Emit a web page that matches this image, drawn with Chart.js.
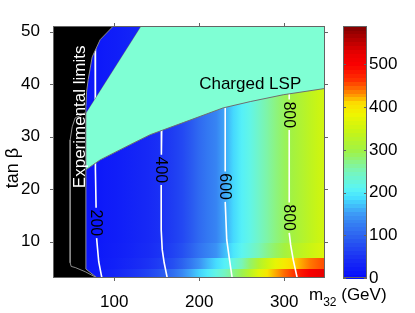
<!DOCTYPE html>
<html lang="en">
<head>
<meta charset="UTF-8">
<title>m32 vs tan beta</title>
<style>
  html, body { margin: 0; padding: 0; background: #fff; }
  #wrap { width: 415px; height: 313px; position: relative; }
</style>
</head>
<body>
<div id="wrap"><canvas id="chart" width="415" height="313"></canvas></div>
<script src="https://cdn.jsdelivr.net/npm/chart.js"></script>
<script>
// axes
const xRange = [28, 348];
const yRange = [3.1, 51.1];
const xTicks = [100, 200, 300];
const yTicks = [10, 20, 30, 40, 50];
const cbarTicks = [0, 100, 200, 300, 400, 500];
const cbarMax = 590;

// colour scale
const cmapStops = [0, 45, 100, 150, 190, 210, 250, 300, 345, 385, 410, 430, 465, 500, 525, 590];
const cmapColors = [
  [5, 10, 252], [25, 45, 245], [45, 100, 240], [60, 150, 245], [70, 225, 255], [90, 245, 245],
  [120, 245, 185], [160, 242, 70], [200, 245, 20], [240, 245, 0], [252, 220, 0], [255, 150, 0],
  [255, 50, 0], [250, 0, 0], [235, 0, 0], [128, 0, 0]
];

// heat map cells: column edges (m32), row edges (tan beta), one row of values per band
const m32Edges = [65, 75, 85, 95, 105, 115, 125, 135, 145, 155, 165, 175, 185, 195, 205,
  215, 225, 235, 245, 255, 265, 275, 285, 295, 305, 315, 325, 335, 345, 355];
const tanbEdges = [3.1, 5, 7, 10, 15, 20, 25, 30, 35, 40, 51.1];
const rowBottom = [20, 22, 28, 34, 42, 50, 58, 68, 80, 95, 112, 135, 160, 182, 200, 222, 245, 270, 295, 330, 370, 400, 425, 445, 462, 485, 505, 520, 530];
const rowLow = [17, 20, 24, 28, 33, 38, 44, 50, 58, 68, 80, 98, 120, 145, 168, 188, 205, 225, 250, 285, 320, 350, 375, 395, 410, 425, 440, 450, 458];
const rowEdge = [16, 19, 23, 26, 30, 34, 38, 43, 49, 57, 67, 79, 96, 115, 130, 145, 170, 195, 213, 230, 250, 270, 288, 305, 320, 333, 346, 358, 367];
const rowMid = [15, 18, 22, 25, 28, 32, 36, 40, 46, 53, 62, 72, 88, 106, 120, 132, 158, 185, 205, 220, 240, 258, 275, 290, 305, 318, 333, 347, 357];
const lspMass = [rowBottom, rowLow, rowEdge, rowMid, rowMid, rowMid, rowMid, rowMid, rowMid, rowMid];

// contours (null = gap for the label)
const c200X = [77.6, 77.6, 78.2, 78.7, null, 79.3, 80.0, 81.8, 85.5];
const c200Y = [47, 37, 23.7, 16.5, null, 10.7, 9.4, 6.2, 3.1];
const c400X = [156.0, 155.5, null, 155.3, 155.3, 156.5, 158.8, 162.4];
const c400Y = [32.5, 26.6, null, 20.8, 12.3, 8.5, 6.0, 3.1];
const c600X = [230.6, 230.6, null, 230.6, 232.4, 235.3, 238.8];
const c600Y = [36.5, 23.4, null, 17.6, 10.4, 7.0, 3.1];
const c800X = [305.9, 305.9, null, 305.9, 305.9, null, 305.9, 307.6, 310.6, 315.3];
const c800Y = [39.5, 37.1, null, 31.3, 17.5, null, 11.7, 9.4, 6.6, 3.1];
const contourText = ['200', '400', '600', '800', '800'];
const contourTextX = [78.9, 155.4, 230.6, 305.9, 305.9];
const contourTextY = [13.6, 23.7, 20.5, 14.6, 34.2];

// excluded regions
const lspLowX = [66.7, 83.5, 118.8, 142.4, 181.2, 228.2, 260, 298.8, 352];
const lspLowY = [23.7, 25.6, 28.5, 30.4, 32.7, 35.5, 36.7, 38.0, 39.3];
const lspTopX = [66.7, 132, 352];
const lspTopY = [34.4, 51.1, 51.1];
const expX = [80, 66.7, 66.7, 67.5, 69.4, 74.1, 83.5, 99];
const expY = [3.1, 4.8, 35.7, 38.5, 40.9, 45.2, 48.5, 51.1];
const expLineX = [65.9, 62.4, 54.1, 50.6, 48.2, 48.2, 49.4, 54.1, 65.9, 80];
const expLineY = [34.6, 34.2, 33.6, 31.9, 29.4, 6.0, 5.3, 5.1, 4.3, 3.1];

const FONT = '"Liberation Sans", Arial, Helvetica, sans-serif';
Chart.defaults.font.family = FONT;
Chart.defaults.font.size = 17;
Chart.defaults.color = '#000';

const pts = (xs, ys) => xs.map((x, i) => ({x: x, y: ys[i]}));

function colourAt(v) {
  if (v <= cmapStops[0]) return 'rgb(' + cmapColors[0].join(',') + ')';
  for (let i = 1; i < cmapStops.length; i++) {
    if (v <= cmapStops[i]) {
      const t = (v - cmapStops[i - 1]) / (cmapStops[i] - cmapStops[i - 1]);
      const a = cmapColors[i - 1], b = cmapColors[i];
      return 'rgb(' + a.map((c, k) => Math.round(c + (b[k] - c) * t)).join(',') + ')';
    }
  }
  return 'rgb(' + cmapColors[cmapColors.length - 1].join(',') + ')';
}

// each band is shaded across its cells, like an interpolated pcolor
const heatmap = {
  id: 'heatmap',
  beforeDatasetsDraw(chart) {
    const {ctx, chartArea: a, scales: {x, y}} = chart;
    ctx.save();
    ctx.beginPath();
    ctx.rect(a.left, a.top, a.right - a.left, a.bottom - a.top);
    ctx.clip();
    const left = x.getPixelForValue(m32Edges[0]);
    const right = x.getPixelForValue(m32Edges[m32Edges.length - 1]);
    const mids = m32Edges.slice(1).map((e, j) => x.getPixelForValue((e + m32Edges[j]) / 2));
    lspMass.forEach((row, i) => {
      const y0 = y.getPixelForValue(tanbEdges[i]);
      const y1 = y.getPixelForValue(tanbEdges[i + 1]);
      const g = ctx.createLinearGradient(mids[0], 0, mids[mids.length - 1], 0);
      const span = mids[mids.length - 1] - mids[0];
      row.forEach((v, j) => g.addColorStop((mids[j] - mids[0]) / span, colourAt(v)));
      ctx.fillStyle = g;
      ctx.fillRect(Math.floor(left), Math.floor(y1), Math.ceil(right - left) + 1, Math.ceil(y0 - y1) + 1);
    });
    ctx.restore();
  }
};

const frame = {
  id: 'frame',
  afterDatasetsDraw(chart) {
    const {ctx, chartArea: a, scales: {x, y, yc}} = chart;
    ctx.save();

    // contour labels
    ctx.fillStyle = '#000';
    ctx.font = '16px ' + FONT;
    ctx.textAlign = 'center';
    ctx.textBaseline = 'middle';
    contourText.forEach((t, i) => {
      ctx.save();
      ctx.translate(x.getPixelForValue(contourTextX[i]), y.getPixelForValue(contourTextY[i]));
      ctx.rotate(Math.PI / 2);
      ctx.fillText(t, 0, 1);
      ctx.restore();
    });

    // region names
    ctx.font = '17px ' + FONT;
    ctx.fillStyle = '#fff';
    ctx.save();
    ctx.translate(x.getPixelForValue(60.5), y.getPixelForValue(33.8));
    ctx.rotate(-Math.PI / 2);
    ctx.fillText('Experimental limits', 0, 0);
    ctx.restore();
    ctx.fillStyle = '#000';
    ctx.fillText('Charged LSP', x.getPixelForValue(260), y.getPixelForValue(39.9));

    // box and outer ticks
    ctx.strokeStyle = '#646464';
    ctx.lineWidth = 1;
    ctx.strokeRect(a.left + 0.5, a.top + 0.5, a.right - a.left - 1, a.bottom - a.top - 1);
    ctx.beginPath();
    xTicks.forEach(v => {
      const px = Math.round(x.getPixelForValue(v)) + 0.5;
      ctx.moveTo(px, a.top - 3); ctx.lineTo(px, a.top);
      ctx.moveTo(px, a.bottom); ctx.lineTo(px, a.bottom + 3);
    });
    yTicks.forEach(v => {
      const py = Math.round(y.getPixelForValue(v)) + 0.5;
      ctx.moveTo(a.left - 3, py); ctx.lineTo(a.left, py);
      ctx.moveTo(a.right, py); ctx.lineTo(a.right + 3, py);
    });
    ctx.stroke();

    // colour bar
    const cl = a.right + 18, cw = 24;
    const n = 64;
    for (let i = 0; i < n; i++) {
      const v0 = cbarMax * i / n, v1 = cbarMax * (i + 1) / n;
      const p0 = yc.getPixelForValue(v0), p1 = yc.getPixelForValue(v1);
      ctx.fillStyle = colourAt((v0 + v1) / 2);
      ctx.fillRect(cl, Math.floor(p1), cw, Math.ceil(p0 - p1) + 1);
    }
    ctx.strokeStyle = '#646464';
    ctx.strokeRect(cl + 0.5, a.top + 0.5, cw - 1, a.bottom - a.top - 1);
    ctx.beginPath();
    cbarTicks.forEach(v => {
      const py = Math.round(yc.getPixelForValue(v)) + 0.5;
      ctx.moveTo(cl, py); ctx.lineTo(cl + 3, py);
      ctx.moveTo(cl + cw - 3, py); ctx.lineTo(cl + cw, py);
    });
    ctx.stroke();

    // axis titles
    ctx.fillStyle = '#000';
    ctx.textAlign = 'left';
    ctx.textBaseline = 'alphabetic';
    let tx = a.right - 16;
    const ty = a.bottom + 22;
    ctx.font = '17px ' + FONT;
    ctx.fillText('m', tx, ty);
    tx += ctx.measureText('m').width;
    ctx.font = '12px ' + FONT;
    ctx.fillText('32', tx, ty + 6);
    tx += ctx.measureText('32').width;
    ctx.font = '17px ' + FONT;
    ctx.fillText(' (GeV)', tx, ty);

    ctx.save();
    ctx.translate(13, 168);
    ctx.rotate(-Math.PI / 2);
    ctx.textAlign = 'center';
    ctx.textBaseline = 'middle';
    ctx.font = '18px ' + FONT;
    ctx.fillText('tan β', 0, 0);
    ctx.restore();

    ctx.restore();
  }
};

const contourStyle = {borderColor: '#ffffff', borderWidth: 1.6, pointRadius: 0, fill: false, order: 5};

new Chart(document.getElementById('chart'), {
  type: 'line',
  data: {
    datasets: [
      Object.assign({label: '200', data: pts(c200X, c200Y)}, contourStyle),
      Object.assign({label: '400', data: pts(c400X, c400Y)}, contourStyle),
      Object.assign({label: '600', data: pts(c600X, c600Y)}, contourStyle),
      Object.assign({label: '800', data: pts(c800X, c800Y)}, contourStyle),
      {
        label: 'Charged LSP', data: pts(lspLowX, lspLowY), fill: '+1',
        backgroundColor: '#7fffd4', borderColor: '#6e6e6e', borderWidth: 1, pointRadius: 0, order: 4
      },
      {
        label: 'Charged LSP top', data: pts(lspTopX, lspTopY), fill: false,
        borderColor: '#6e6e6e', borderWidth: 1, pointRadius: 0, order: 4
      },
      {
        label: 'Experimental limits', data: pts(expX, expY), indexAxis: 'y',
        fill: {value: xRange[0]}, backgroundColor: '#000', borderColor: '#8c8c8c',
        borderWidth: 1, pointRadius: 0, order: 2
      },
      {
        label: 'limit line', data: pts(expLineX, expLineY), fill: false,
        borderColor: '#8c8c8c', borderWidth: 1, pointRadius: 0, order: 1
      }
    ]
  },
  options: {
    responsive: false,
    animation: false,
    devicePixelRatio: 1,
    layout: {padding: {top: 26, left: 0, right: 0, bottom: 0}},
    plugins: {legend: {display: false}, tooltip: {enabled: false}},
    scales: {
      x: {
        type: 'linear', min: xRange[0], max: xRange[1],
        grid: {display: false}, border: {display: false},
        afterBuildTicks: s => { s.ticks = xTicks.map(v => ({value: v})); },
        ticks: {padding: 6, maxRotation: 0, autoSkip: false},
        afterFit: s => { s.height = 35; }
      },
      y: {
        type: 'linear', min: yRange[0], max: yRange[1],
        grid: {display: false}, border: {display: false},
        afterBuildTicks: s => { s.ticks = yTicks.map(v => ({value: v})); },
        ticks: {padding: 5, autoSkip: false},
        afterFit: s => { s.width = 53; }
      },
      yc: {
        type: 'linear', position: 'right', min: 0, max: cbarMax,
        grid: {display: true, drawOnChartArea: false, drawTicks: true, tickLength: 41, color: 'rgba(0,0,0,0)'},
        border: {display: false},
        afterBuildTicks: s => { s.ticks = cbarTicks.map(v => ({value: v})); },
        ticks: {padding: 3, autoSkip: false},
        afterFit: s => { s.width = 90; }
      }
    }
  },
  plugins: [heatmap, frame]
});
</script>
</body>
</html>
